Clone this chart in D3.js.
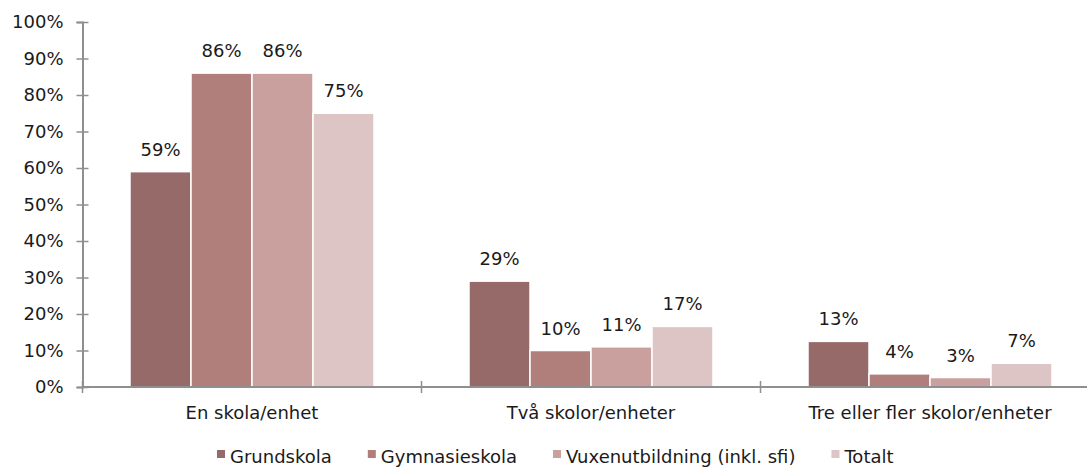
<!DOCTYPE html>
<html>
<head>
<meta charset="utf-8">
<script src="https://cdn.jsdelivr.net/npm/d3@7/dist/d3.min.js"></script>
<style>
  body { margin: 0; background: #fff; }
  svg { display: block; font-family: "DejaVu Sans", Verdana, sans-serif; }
</style>
</head>
<body>
<div id="chart"></div>
<script>
// data (bar heights estimated, labels as printed)
const categories = ["En skola/enhet", "Två skolor/enheter", "Tre eller fler skolor/enheter"];
const seriesNames = ["Grundskola", "Gymnasieskola", "Vuxenutbildning (inkl. sfi)", "Totalt"];
const grundskola = [59, 29, 12.5];
const gymnasieskola = [86, 10, 3.6];
const vuxenutbildning = [86, 11, 2.6];
const totalt = [75, 16.6, 6.5];
const yTicks = [0, 10, 20, 30, 40, 50, 60, 70, 80, 90, 100];
const colors = ["#956a69", "#b07f7b", "#c9a09e", "#dec5c5"];

const seriesValues = [grundskola, gymnasieskola, vuxenutbildning, totalt];

const w = 1087, h = 468;
const plotLeft = 82.5, plotTop = 22, plotBottom = 387;
const catWidth = 339;

const svg = d3.select("#chart").append("svg").attr("width", w).attr("height", h);

// scales
const yScale = d3.scaleLinear().domain([0, 100]).range([plotBottom, plotTop]);
const x0 = d3.scaleBand().domain(categories).range([plotLeft, plotLeft + catWidth * 3]);
const groupW = 244;
const x1 = d3.scaleBand().domain(seriesNames).range([0, groupW]);

// bars
const groups = svg.selectAll("g.cat")
  .data(categories)
  .enter().append("g")
  .attr("class", "cat")
  .attr("transform", d => `translate(${x0(d) + (x0.bandwidth() - groupW) / 2},0)`);

groups.selectAll("rect")
  .data((d, i) => seriesNames.map((s, j) => ({ s: s, v: seriesValues[j][i], c: colors[j] })))
  .enter().append("rect")
  .attr("x", d => x1(d.s))
  .attr("y", d => yScale(d.v))
  .attr("width", x1.bandwidth())
  .attr("height", d => plotBottom - yScale(d.v))
  .attr("fill", d => d.c)
  .attr("stroke", "#fff")
  .attr("stroke-width", 1.5);

groups.selectAll("text")
  .data((d, i) => seriesNames.map((s, j) => ({ s: s, v: seriesValues[j][i] })))
  .enter().append("text")
  .attr("x", d => x1(d.s) + x1.bandwidth() / 2)
  .attr("y", d => yScale(d.v) - 16)
  .attr("text-anchor", "middle")
  .attr("font-size", 18)
  .attr("fill", "#1a1a1a")
  .text(d => Math.round(d.v) + "%");

// y axis
const axisColor = "#8f8f8f";
const yAxis = d3.axisLeft(yScale).tickValues(yTicks).tickFormat(d => d + "%");
const gy = svg.append("g").attr("transform", `translate(${plotLeft},0)`).call(yAxis);
gy.select(".domain").attr("stroke", axisColor).attr("stroke-width", 2);
gy.selectAll(".tick line").attr("x1", -6).attr("x2", 6).attr("stroke", axisColor).attr("stroke-width", 1.5);
gy.selectAll(".tick text").attr("x", -19).attr("font-size", 18).attr("fill", "#1a1a1a");
gy.attr("font-family", null).attr("font-size", null);

// x axis
const gx = svg.append("g").attr("transform", `translate(0,${plotBottom})`);
gx.append("line").attr("x1", plotLeft).attr("x2", w).attr("stroke", axisColor).attr("stroke-width", 2);
gx.selectAll("line.sep")
  .data(categories)
  .enter().append("line")
  .attr("class", "sep")
  .attr("x1", d => x0(d)).attr("x2", d => x0(d))
  .attr("y1", -6).attr("y2", 6)
  .attr("stroke", axisColor).attr("stroke-width", 1.5);
gx.selectAll("text")
  .data(categories)
  .enter().append("text")
  .attr("x", d => x0(d) + x0.bandwidth() / 2)
  .attr("y", 32)
  .attr("text-anchor", "middle")
  .attr("font-size", 18)
  .attr("fill", "#1a1a1a")
  .text(d => d);

// legend
const legend = svg.append("g").attr("transform", "translate(217,463)");
let lx = 0;
seriesNames.forEach((s, i) => {
  const item = legend.append("g").attr("transform", `translate(${lx},0)`);
  item.append("rect").attr("x", 0).attr("y", -13).attr("width", 8).attr("height", 8).attr("fill", colors[i]);
  const t = item.append("text").attr("x", 13).attr("y", 0).attr("font-size", 18).attr("fill", "#1a1a1a").text(s);
  lx += 13 + t.node().getComputedTextLength() + 36;
});
</script>
</body>
</html>
